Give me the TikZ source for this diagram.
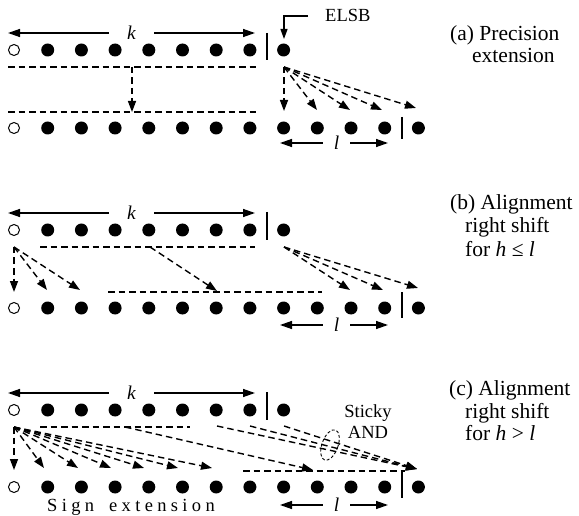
\documentclass[tikz,border=0pt]{standalone}
\usepackage{fontspec}
\setmainfont{Liberation Serif}
\usetikzlibrary{arrows.meta,shapes.geometric}

\tikzset{
  bit/.style={circle, fill=black, inner sep=0pt, minimum size=13pt},
  signbit/.style={circle, draw=black, line width=1pt, fill=white, inner sep=0pt, minimum size=11pt},
  dim/.style={line width=1.4pt, -{Triangle[length=12pt,width=8pt]}},
  move/.style={line width=1.4pt, dash pattern=on 6.5pt off 4pt, -{Triangle[length=11pt,width=8pt]}},
  guide/.style={line width=1.4pt, dash pattern=on 6.5pt off 4pt},
  sep/.style={line width=1.7pt},
  dimlabel/.style={font=\fontsize{19.5}{21}\selectfont\itshape, inner sep=0pt, minimum height=10pt},
  caption/.style={font=\fontsize{21.5}{23}\selectfont, anchor=base west, inner sep=0pt},
  note/.style={font=\fontsize{18.5}{20}\selectfont, inner sep=0pt},
}

% one row of bits: open sign bit, then filled bits up to index #3
\newcommand\bitrow[3]{%
  \node[signbit] (#10) at (14,#2) {};
  \foreach \i in {1,...,#3} \node[bit] (#1\i) at ({14+33.7*\i},#2) {};
}

% width arrows k and l with their labels
\newcommand\widthk[2]{%
  \node[dimlabel, minimum width=45pt] (k#1) at (131.5,#2) {k};
  \coordinate (k#1L) at (8,#2);
  \coordinate (k#1R) at (255,#2);
  \draw[dim] (k#1.west) -- (k#1L);
  \draw[dim] (k#1.east) -- (k#1R);
}
\newcommand\widthl[2]{%
  \node[dimlabel, minimum width=27pt] (l#1) at (336.5,#2) {l};
  \coordinate (l#1L) at (280,#2);
  \coordinate (l#1R) at (388,#2);
  \draw[dim] (l#1.west) -- (l#1L);
  \draw[dim] (l#1.east) -- (l#1R);
}

\begin{document}
\begin{tikzpicture}[x=1pt,y=-1pt]
\useasboundingbox (0,0) rectangle (579,516);

% ---------------- (a) precision extension ----------------
\bitrow{ta}{50}{8}
\bitrow{ba}{128}{12}
\draw[sep] (267,33) -- (267,60);
\draw[sep] (402,117) -- (402,139);
\widthk{a}{33}
\widthl{a}{143}

\node[note, anchor=base west] (elsb) at (325,22) {ELSB};
\coordinate (elsbTip) at (284,39);
\draw[line width=1.2pt, -{Triangle[length=10pt,width=7pt]}] ([xshift=-17pt]elsb.west) -| (elsbTip);

\coordinate (gua1) at (8,67);  \coordinate (gua2) at (257,67);
\coordinate (gla1) at (8,112); \coordinate (gla2) at (257,112);
\draw[guide] (gua1) -- (gua2);
\draw[guide] (gla1) -- (gla2);
\coordinate (sha1) at (132,67); \coordinate (sha2) at (132,112);
\draw[move] (sha1) -- (sha2);

\coordinate (fa) at (284,67);
\foreach \x/\y [count=\n] in {284/111, 317/110, 350/110, 382/110, 416/108} {
  \coordinate (fa\n) at (\x,\y);
  \draw[move] (fa) -- (fa\n);
}

\node[caption] (capa1) at (450,41) {(a) Precision};
\node[caption] (capa2) at (472,63) {extension};

% ---------------- (b) right shift, h <= l ----------------
\bitrow{tb}{230}{8}
\bitrow{bb}{308}{12}
\draw[sep] (267,212) -- (267,240);
\draw[sep] (402,292) -- (402,318);
\widthk{b}{213}
\widthl{b}{325}

\coordinate (gub1) at (40,247);  \coordinate (gub2) at (255,247);
\coordinate (glb1) at (108,292); \coordinate (glb2) at (322,292);
\draw[guide] (gub1) -- (gub2);
\draw[guide] (glb1) -- (glb2);
\coordinate (shb1) at (150,247); \coordinate (shb2) at (217,291);
\draw[move] (shb1) -- (shb2);

\coordinate (fbl) at (14,247);
\foreach \x/\y [count=\n] in {14/292, 47/290, 80/290} {
  \coordinate (fbl\n) at (\x,\y);
  \draw[move] (fbl) -- (fbl\n);
}
\coordinate (fbr) at (284,247);
\foreach \x/\y [count=\n] in {350/290, 383/290, 418/288} {
  \coordinate (fbr\n) at (\x,\y);
  \draw[move] (fbr) -- (fbr\n);
}

\node[caption] (capb1) at (450,210) {(b) Alignment};
\node[caption] (capb2) at (465,233) {right shift};
\node[caption] (capb3) at (465,257) {for \textit{h} ≤ \textit{l}};

% ---------------- (c) right shift, h > l ----------------
\bitrow{tc}{410}{8}
\bitrow{bc}{487}{12}
\draw[sep] (267,392) -- (267,420);
\draw[sep] (402,472) -- (402,498);
\widthk{c}{393}
\widthl{c}{505}

\coordinate (guc1) at (40,427);  \coordinate (guc2) at (190,427);
\coordinate (glc1) at (243,471); \coordinate (glc2) at (405,471);
\draw[guide] (guc1) -- (guc2);
\draw[guide] (glc1) -- (glc2);
\coordinate (shc1) at (125,427); \coordinate (shc2) at (313,470);
\draw[move] (shc1) -- (shc2);

\coordinate (fc) at (14,427);
\foreach \x/\y [count=\n] in {14/470, 44/468, 78/468, 111/468, 144/468, 178/468, 212/468} {
  \coordinate (fc\n) at (\x,\y);
  \draw[move] (fc) -- (fc\n);
}

\coordinate (stk) at (417,469);
\foreach \x [count=\n] in {217, 250, 284} {
  \coordinate (stk\n) at (\x,426);
  \draw[move] (stk\n) -- (stk);
}
\node[draw, ellipse, line width=0.9pt, dash pattern=on 3pt off 2pt,
      minimum width=16pt, minimum height=32pt, inner sep=0pt, rotate=-20] (andgate) at (330,445) {};
\node[note, anchor=base] (sticky) at (368,417) {Sticky};
\node[note, anchor=base] (andtxt) at (368,438) {AND};

\node[note, anchor=base west] (signext) at (47,511)
  {\addfontfeature{LetterSpace=23.5}Sign\hspace{6pt} extension};

\node[caption] (capc1) at (449,395) {(c) Alignment};
\node[caption] (capc2) at (465,418) {right shift};
\node[caption] (capc3) at (465,440) {for \textit{h} > \textit{l}};
\end{tikzpicture}
\end{document}
